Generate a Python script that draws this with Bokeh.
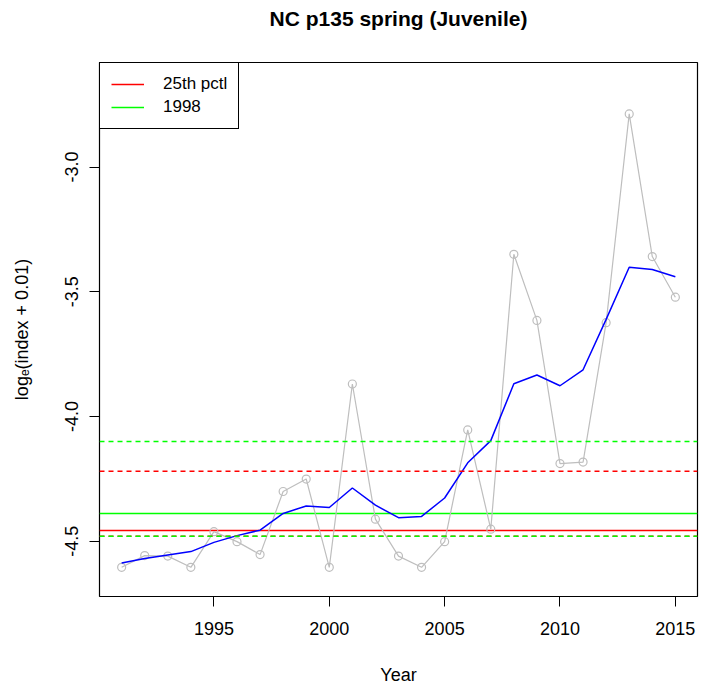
from bokeh.plotting import figure
from bokeh.models import Range1d, FixedTicker, PrintfTickFormatter, Span, Legend, LegendItem, Title
from bokeh.embed import file_html
from bokeh.resources import INLINE

# Survey years and the log-transformed index, log(index + 0.01)
years = list(range(1991, 2016))
log_index = [-4.605, -4.558, -4.560, -4.605, -4.462, -4.502, -4.554, -4.301,
             -4.251, -4.605, -3.870, -4.412, -4.560, -4.605, -4.502, -4.054,
             -4.452, -3.350, -3.615, -4.189, -4.183, -3.624, -2.787, -3.359,
             -3.522]
# Smoothed trend of the index
smoothed = [-4.588, -4.570, -4.556, -4.542, -4.505, -4.478, -4.456, -4.389,
            -4.359, -4.365, -4.287, -4.356, -4.406, -4.401, -4.327, -4.186,
            -4.097, -3.869, -3.834, -3.877, -3.813, -3.611, -3.402, -3.411,
            -3.440]

# Reference levels
pctl25 = -4.457
ref_1998 = -4.389
pctl25_bounds = [-4.220, -4.480]
ref_1998_bounds = [-4.101, -4.480]

x_ticks = [1995, 2000, 2005, 2010, 2015]
y_ticks = [-4.5, -4.0, -3.5, -3.0]

FONT = "Liberation Sans"

x_lo, x_hi = 1990.04, 2015.96
y_lo, y_hi = -4.722, -2.581

p = figure(width=711, height=687, output_backend="svg", toolbar_location=None,
           title=None,
           x_range=Range1d(x_lo, x_hi), y_range=Range1d(y_lo, y_hi),
           min_border_left=99, min_border_right=14, min_border_top=62,
           min_border_bottom=89, background_fill_color="white",
           border_fill_color="white")

# Gap between the frame and the title, then the title itself
p.add_layout(Title(text=" ", text_font_size="1px", standoff=27), "above")
p.add_layout(Title(text="NC p135 spring (Juvenile)", text_font=FONT,
                   text_font_size="21px", text_font_style="bold",
                   text_color="black", align="center",
                   vertical_align="bottom", standoff=6), "above")

p.grid.visible = False
p.outline_line_color = "black"
p.outline_line_width = 1.2

for ax in (p.xaxis[0], p.yaxis[0]):
    ax.axis_line_color = None
    ax.major_tick_line_color = "black"
    ax.major_tick_line_width = 1
    ax.major_tick_out = 10
    ax.major_tick_in = 0
    ax.minor_tick_line_color = None
    ax.major_label_text_font = FONT
    ax.major_label_text_font_size = "18px"
    ax.major_label_text_color = "black"
    ax.axis_label_text_font = FONT
    ax.axis_label_text_font_size = "18px"
    ax.axis_label_text_font_style = "normal"
    ax.axis_label_text_color = "black"

p.xaxis.ticker = FixedTicker(ticks=x_ticks)
p.xaxis.major_label_standoff = 15
p.xaxis.axis_label = "Year"
p.xaxis.axis_label_standoff = 27

p.yaxis.ticker = FixedTicker(ticks=y_ticks)
p.yaxis.formatter = PrintfTickFormatter(format="%.1f")
p.yaxis.major_label_orientation = "vertical"
p.yaxis.major_label_standoff = 11
p.yaxis.axis_label = "logₑ(index + 0.01)"
p.yaxis.axis_label_standoff = 31

# Dashed bounds
for v in pctl25_bounds:
    p.add_layout(Span(location=v, dimension="width", line_color="red",
                      line_width=1.5, line_dash="5 4"))
for v in ref_1998_bounds:
    p.add_layout(Span(location=v, dimension="width", line_color="#00FF00",
                      line_width=1.5, line_dash="5 4"))

# Solid reference levels across the full year range
r_red = p.line([x_lo, x_hi], [pctl25, pctl25], line_color="red", line_width=1.5)
r_green = p.line([x_lo, x_hi], [ref_1998, ref_1998], line_color="#00FF00", line_width=1.5)

# Index series and smoothed trend
p.line(years, log_index, line_color="#BEBEBE", line_width=1.2)
p.scatter(years, log_index, marker="circle", size=8, fill_color=None,
          line_color="#BEBEBE", line_width=1.2)
p.line(years, smoothed, line_color="blue", line_width=1.5)

legend = Legend(items=[LegendItem(label="25th pctl", renderers=[r_red]),
                       LegendItem(label="1998", renderers=[r_green])],
                location="top_left")
legend.margin = 0
legend.padding = 11
legend.spacing = 3
legend.glyph_width = 33
legend.glyph_height = 20
legend.label_height = 20
legend.label_standoff = 19
legend.label_text_font = FONT
legend.label_text_font_size = "17px"
legend.label_text_color = "black"
legend.border_line_color = "black"
legend.border_line_width = 1
legend.border_line_alpha = 1
legend.background_fill_alpha = 1
p.add_layout(legend)

open("out.html", "w").write(file_html(p, INLINE))
